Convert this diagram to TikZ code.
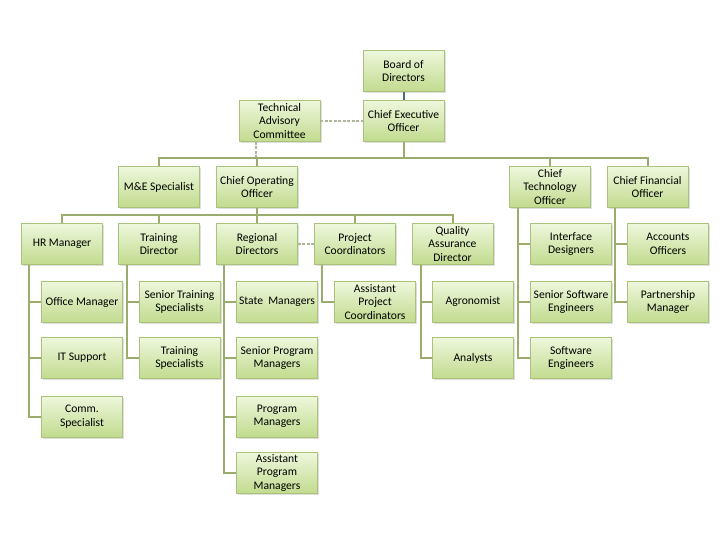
\documentclass[tikz,border=0pt]{standalone}
\usepackage{fontspec}
\setmainfont{Carlito}
\usetikzlibrary{shadows}
\definecolor{boxtop}{HTML}{EEF7DC}
\definecolor{boxbot}{HTML}{C1DB8E}
\definecolor{boxline}{HTML}{A9C27C}
\definecolor{conn}{HTML}{9AAD6C}
\definecolor{dashc}{HTML}{ADB59A}
\definecolor{bluec}{HTML}{4A6A94}
\tikzset{
  orgbox/.style={draw=boxline, line width=0.9pt, top color=boxtop, bottom color=boxbot,
    minimum width=81pt, minimum height=41pt, inner sep=1pt, align=center,
    font=\fontsize{11.6}{13.4}\selectfont,
    drop shadow={shadow xshift=1.6pt, shadow yshift=-1.6pt, opacity=0.25}},
  link/.style={draw=conn, line width=2pt},
  dlink/.style={draw=dashc, line width=2pt, dash pattern=on 3pt off 1.5pt},
}
\begin{document}
\begin{tikzpicture}[x=1pt, y=-1pt]
\useasboundingbox[fill=white] (0,0) rectangle (728,546);
\coordinate (b1) at (0,158);
\coordinate (b2) at (0,215);
% nodes
\node[orgbox] (board) at (403.5,71) {Board of\\Directors};
\node[orgbox] (ceo) at (403.5,121) {Chief Executive\\Officer};
\node[orgbox] (tac) at (279.5,121) {Technical\\Advisory\\Committee};
\node[orgbox] (me) at (159,187) {M\&E Specialist};
\node[orgbox] (coo) at (257,187) {Chief Operating\\Officer};
\node[orgbox] (cto) at (550,187) {Chief\\Technology\\Officer};
\node[orgbox] (cfo) at (647.5,187) {Chief Financial\\Officer};
\node[orgbox] (hr) at (62,244) {HR Manager};
\node[orgbox] (td) at (159,244) {Training\\Director};
\node[orgbox] (rd) at (257,244) {Regional\\Directors};
\node[orgbox] (pc) at (355,244) {Project\\Coordinators};
\node[orgbox] (qa) at (452.5,244) {Quality\\Assurance\\Director};
\node[orgbox] (id) at (571,244) {Interface\\Designers};
\node[orgbox] (ao) at (668,244) {Accounts\\Officers};
\node[orgbox] (om) at (82,302) {Office Manager};
\node[orgbox] (sts) at (179.5,302) {Senior Training\\Specialists};
\node[orgbox] (sm) at (277,302) {State\ \ Managers};
\node[orgbox] (apc) at (375,302) {Assistant\\Project\\Coordinators};
\node[orgbox] (agr) at (473,302) {Agronomist};
\node[orgbox] (sse) at (571,302) {Senior Software\\Engineers};
\node[orgbox] (pm) at (668,302) {Partnership\\Manager};
\node[orgbox] (its) at (82,358) {IT Support};
\node[orgbox] (ts) at (179.5,358) {Training\\Specialists};
\node[orgbox] (spm) at (277,358) {Senior Program\\Managers};
\node[orgbox] (an) at (473,358) {Analysts};
\node[orgbox] (se) at (571,358) {Software\\Engineers};
\node[orgbox] (cs) at (82,416.5) {Comm.\\Specialist};
\node[orgbox] (prm) at (277,416.5) {Program\\Managers};
\node[orgbox] (apm) at (277,473) {Assistant\\Program\\Managers};
% connectors
\draw[draw=bluec, line width=2pt] (board.south) -- (ceo.north);
\draw[dlink] (tac.east) -- (ceo.west);
\draw[dlink] (tac.south west) ++(17.5,0) -- ++(0,17);
\draw[link] (me.north) -- (me.north |- b1) -| (cfo.north);
\draw[link] (ceo.south) -- (ceo.south |- b1);
\draw[link] (coo.north |- b1) -- (coo.north);
\draw[link] (cto.north |- b1) -- (cto.north);
\draw[link] (hr.north) -- (hr.north |- b2) -| (qa.north);
\draw[link] (coo.south) -- (coo.south |- b2);
\draw[link] (td.north |- b2) -- (td.north);
\draw[link] (rd.north |- b2) -- (rd.north);
\draw[link] (pc.north |- b2) -- (pc.north);
\draw[dlink] (rd.east) -- (pc.west);
\draw[link] (hr.south west) ++(8,0) |- (cs.west);
\draw[link] (hr.south west) ++(8,0) |- (om.west);
\draw[link] (hr.south west) ++(8,0) |- (its.west);
\draw[link] (td.south west) ++(9,0) |- (ts.west);
\draw[link] (td.south west) ++(9,0) |- (sts.west);
\draw[link] (rd.south west) ++(8,0) |- (apm.west);
\draw[link] (rd.south west) ++(8,0) |- (sm.west);
\draw[link] (rd.south west) ++(8,0) |- (spm.west);
\draw[link] (rd.south west) ++(8,0) |- (prm.west);
\draw[link] (pc.south west) ++(8,0) |- (apc.west);
\draw[link] (qa.south west) ++(9,0) |- (an.west);
\draw[link] (qa.south west) ++(9,0) |- (agr.west);
\draw[link] (cto.south west) ++(8.5,0) |- (se.west);
\draw[link] (cto.south west) ++(8.5,0) |- (sse.west);
\draw[link] (cto.south west) ++(8.5,0) |- (id.west);
\draw[link] (cfo.south west) ++(8,0) |- (pm.west);
\draw[link] (cfo.south west) ++(8,0) |- (ao.west);
\end{tikzpicture}
\end{document}
